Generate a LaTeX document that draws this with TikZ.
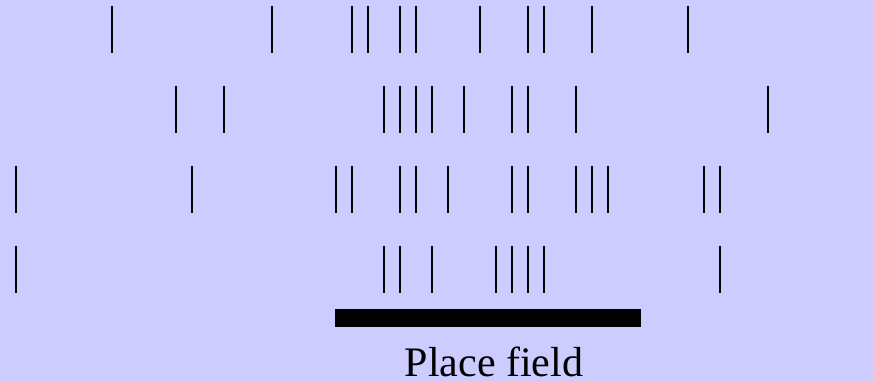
\documentclass[tikz,border=0pt]{standalone}
\usepackage{fontspec}
\setmainfont{Liberation Serif}
\usetikzlibrary{positioning}
\definecolor{lavender}{HTML}{CCCCFF}

\begin{document}
\begin{tikzpicture}[
    x=1pt, y=-1pt,
    spike/.style={line width=2pt},
    field/.style={
      fill=black, inner sep=0pt,
      minimum width=306pt, minimum height=18pt
    },
    caption/.style={font=\fontsize{42}{50}\selectfont, anchor=base}
  ]
    % Background
    \fill[lavender] (0,0) rectangle (874,382);
    \useasboundingbox (0,0) rectangle (874,382);

    % Spike trains (spike times in steps of 16)
    \foreach \t in {7,17,22,23,25,26,30,33,34,37,43}
      \draw[spike] (16*\t,6) -- ++(0,47);
    \foreach \t in {11,14,24,25,26,27,29,32,33,36,48}
      \draw[spike] (16*\t,86) -- ++(0,47);
    \foreach \t in {1,12,21,22,25,26,28,32,33,36,37,38,44,45}
      \draw[spike] (16*\t,166) -- ++(0,47);
    \foreach \t in {1,24,25,27,31,32,33,34,45}
      \draw[spike] (16*\t,246) -- ++(0,47);

    % Place field
    \node[field] (field) at (488,318) {};
    \node[caption] (label) at (494,376) {Place field};
  \end{tikzpicture}
\end{document}
